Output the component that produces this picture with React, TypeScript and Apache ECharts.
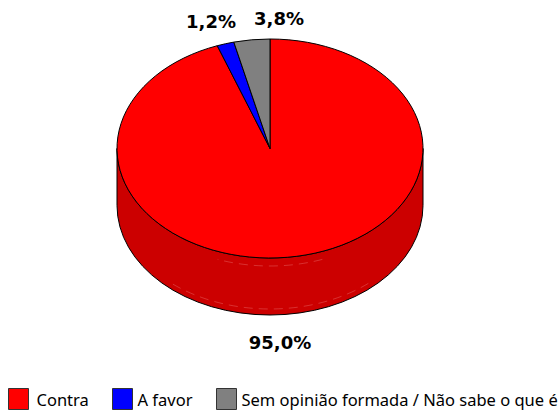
import React, { useEffect, useRef } from "react";
import * as echarts from "echarts";

const categories = ["Contra", "A favor", "Sem opinião formada / Não sabe o que é"];
// Printed percentages, shown as the slice labels.
const sliceLabels = ["95,0%", "1,2%", "3,8%"];
// Slice shares as actually drawn in the picture (the blue wedge is drawn wider than its 1,2% label).
const drawnShares = [94.4, 1.8, 3.8];
const topColors = ["#FF0000", "#0000FF", "#808080"];
const wallColors = ["#CC0000", "#0000CC", "#666666"];

const CX = 270;
const CY = 148.5;
const RX = 153;
const RY = 109.5;
const DEPTH = 57;
const labelCenters = [
  [280, 342],
  [211, 21],
  [279, 18],
];
const legendLayout = [
  { left: 8, pad: 3 },
  { left: 112, pad: 0 },
  { left: 216, pad: 0 },
];
// Faint highlight streaks on the side wall: [start angle, end angle, vertical offset].
const wallStreaks = [
  [140, 220, 51],
  [160, 200, 8],
];

const pt = (deg: number, dy = 0) => {
  const a = (deg * Math.PI) / 180;
  return [CX + RX * Math.sin(a), CY - RY * Math.cos(a) + dy];
};

function renderSlice(params: any, api: any) {
  const i = params.seriesIndex;
  const start = (api.value(1) / 100) * 360;
  const end = start + (api.value(0) / 100) * 360;
  const a = pt(start);
  const b = pt(end);
  const large = end - start > 180 ? 1 : 0;
  const top = `M${CX} ${CY}L${a[0]} ${a[1]}A${RX} ${RY} 0 ${large} 1 ${b[0]} ${b[1]}Z`;
  const children: any[] = [];
  const ws = Math.max(start, 90);
  const we = Math.min(end, 270);
  if (we > ws) {
    const p = pt(ws);
    const q = pt(we);
    const q2 = pt(we, DEPTH);
    const p2 = pt(ws, DEPTH);
    children.push({
      type: "path",
      shape: {
        pathData: `M${p[0]} ${p[1]}A${RX} ${RY} 0 0 1 ${q[0]} ${q[1]}L${q2[0]} ${q2[1]}A${RX} ${RY} 0 0 0 ${p2[0]} ${p2[1]}Z`,
      },
      style: { fill: wallColors[i], stroke: "#000", lineWidth: 1 },
    });
    wallStreaks.forEach(([s, e, dy]) => {
      const u = pt(s, dy);
      const v = pt(e, dy);
      children.push({
        type: "path",
        shape: { pathData: `M${u[0]} ${u[1]}A${RX} ${RY} 0 0 1 ${v[0]} ${v[1]}` },
        style: { fill: "none", stroke: "rgba(255,190,190,0.25)", lineWidth: 1, lineDash: [9, 6] },
      });
    });
  }
  children.push({
    type: "path",
    shape: { pathData: top },
    style: { fill: topColors[i], stroke: "#000", lineWidth: 1 },
  });
  children.push({
    type: "text",
    x: labelCenters[i][0],
    y: labelCenters[i][1],
    style: {
      text: sliceLabels[i],
      fill: "#000",
      font: 'bold 18px "DejaVu Sans"',
      align: "center",
      verticalAlign: "middle",
    },
  });
  return { type: "group", children };
}

export default function App() {
  const ref = useRef<HTMLDivElement>(null);
  useEffect(() => {
    const chart = echarts.init(ref.current!, undefined, { renderer: "svg" });
    let cum = 0;
    const series = categories.map((name, i) => {
      const s = {
        type: "custom",
        name,
        coordinateSystem: "none",
        renderItem: renderSlice,
        itemStyle: { color: topColors[i] },
        silent: true,
        data: [[drawnShares[i], cum]],
      };
      cum += drawnShares[i];
      return s;
    });
    chart.setOption({
      animation: false,
      backgroundColor: "#fff",
      legend: categories.map((name, i) => ({
        data: [name],
        left: legendLayout[i].left,
        top: 388,
        itemWidth: 20,
        itemHeight: 21,
        selectedMode: false,
        icon: "rect",
        itemStyle: { borderColor: "#333", borderWidth: 1 },
        padding: 0,
        textStyle: {
          fontFamily: "Noto Sans",
          fontSize: 16.5,
          color: "#000",
          padding: [3, 0, 0, legendLayout[i].pad],
        },
      })),
      series,
    });
    return () => chart.dispose();
  }, []);
  return <div ref={ref} style={{ position: "fixed", left: 0, top: 0, width: 558, height: 410 }} />;
}
